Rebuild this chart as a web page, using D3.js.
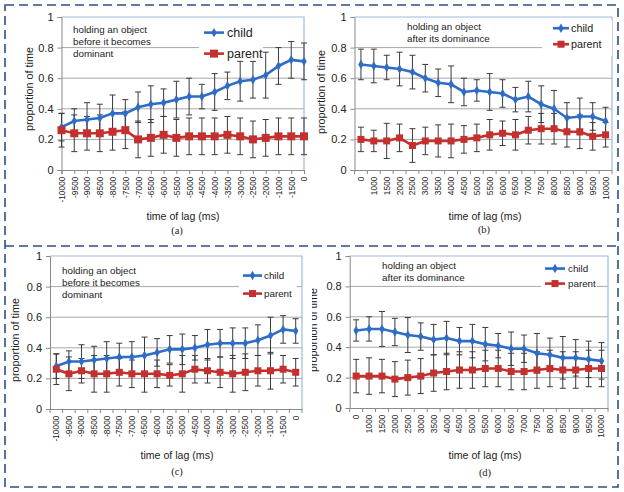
<!DOCTYPE html>
<html><head><meta charset="utf-8">
<script src="https://cdn.jsdelivr.net/npm/d3@7"></script>
<style>body{margin:0;background:#fff}svg{display:block}</style>
</head><body><svg id="c" width="624" height="492"></svg>
<script>
// ---------- data ----------
const catsBefore = ["-10000","-9500","-9000","-8500","-8000","-7500","-7000","-6500","-6000","-5500","-5000","-4500","-4000","-3500","-3000","-2500","-2000","-1000","-1500","0"];
const catsAfter  = ["0","1000","1500","2000","2500","3000","3500","4000","4500","5000","5500","6000","6500","7000","7500","8000","8500","9000","9500","10000"];

const childA     = [0.28,0.32,0.33,0.34,0.37,0.37,0.41,0.43,0.44,0.46,0.48,0.48,0.51,0.55,0.58,0.59,0.62,0.68,0.72,0.71];
const childAErr  = [0.09,0.08,0.11,0.09,0.12,0.09,0.10,0.12,0.09,0.12,0.12,0.08,0.12,0.09,0.13,0.12,0.15,0.12,0.12,0.12];
const parentA    = [0.26,0.24,0.24,0.24,0.25,0.26,0.20,0.21,0.23,0.21,0.22,0.22,0.22,0.23,0.22,0.20,0.21,0.22,0.22,0.22];
const parentAErr = [0.11,0.12,0.11,0.12,0.12,0.12,0.12,0.12,0.12,0.12,0.12,0.12,0.12,0.12,0.12,0.12,0.12,0.12,0.12,0.12];

const childB     = [0.69,0.68,0.67,0.66,0.64,0.60,0.57,0.56,0.51,0.52,0.51,0.50,0.46,0.48,0.43,0.40,0.34,0.35,0.35,0.32];
const childBErr  = [0.10,0.11,0.08,0.11,0.11,0.09,0.09,0.12,0.09,0.07,0.12,0.09,0.08,0.10,0.12,0.12,0.10,0.12,0.09,0.09];
const parentB    = [0.20,0.19,0.19,0.21,0.16,0.19,0.19,0.19,0.20,0.21,0.23,0.24,0.23,0.26,0.27,0.27,0.25,0.25,0.22,0.23];
const parentBErr = [0.08,0.07,0.115,0.09,0.11,0.09,0.105,0.11,0.09,0.09,0.10,0.08,0.10,0.09,0.10,0.10,0.10,0.11,0.09,0.08];

const childC     = [0.28,0.31,0.31,0.32,0.33,0.34,0.34,0.35,0.37,0.39,0.39,0.40,0.42,0.43,0.43,0.43,0.45,0.48,0.52,0.51];
const childCErr  = [0.08,0.07,0.11,0.09,0.11,0.09,0.10,0.12,0.09,0.09,0.10,0.08,0.10,0.09,0.10,0.10,0.10,0.12,0.09,0.08];
const parentC    = [0.26,0.23,0.25,0.23,0.23,0.24,0.23,0.23,0.23,0.22,0.23,0.26,0.25,0.24,0.23,0.24,0.25,0.25,0.26,0.24];
const parentCErr = [0.10,0.11,0.08,0.12,0.12,0.09,0.09,0.12,0.09,0.07,0.12,0.09,0.08,0.10,0.12,0.12,0.10,0.12,0.09,0.09];

const childD     = [0.51,0.52,0.52,0.50,0.48,0.47,0.45,0.46,0.44,0.44,0.42,0.41,0.39,0.39,0.36,0.35,0.33,0.33,0.32,0.31];
const childDErr  = [0.07,0.08,0.115,0.09,0.115,0.09,0.10,0.11,0.09,0.11,0.11,0.08,0.11,0.09,0.13,0.11,0.14,0.12,0.12,0.12];
const parentD    = [0.21,0.21,0.21,0.19,0.20,0.21,0.23,0.24,0.25,0.25,0.26,0.26,0.24,0.24,0.25,0.26,0.25,0.25,0.26,0.26];
const parentDErr = [0.11,0.12,0.11,0.115,0.115,0.115,0.12,0.12,0.12,0.12,0.12,0.12,0.12,0.12,0.12,0.12,0.12,0.12,0.12,0.12];

const yTicks = [0,0.2,0.4,0.6,0.8,1];
const seriesNames = ["child","parent"];
const noteBefore = ["holding an object","before it becomes","dominant"];
const noteAfter  = ["holding an object","after its dominance"];
const panelLabels = ["(a)","(b)","(c)","(d)"];
const yTitle = "proportion of time";
const xTitle = "time of lag (ms)";

// ---------- layout ----------
const CHILD = "#2f6cc6", PARENT = "#c4302d";
const panels = [
  {cats:catsBefore, child:childA, childErr:childAErr, parent:parentA, parentErr:parentAErr, note:noteBefore, label:panelLabels[0],
   x0:61.5, x1:304, yTop:17, yBot:170, mode:"point",
   noteX:73, noteY:32.5, noteDy:12, leg:{x:204, w:20, tx:227, y1:37, y2:58, fs:12.5, bg:[199,24,64,40], sq:8},
   yT:[29,89], xT:[183,220], lab:[177,234]},
  {cats:catsAfter, child:childB, childErr:childBErr, parent:parentB, parentErr:parentBErr, note:noteAfter, label:panelLabels[1],
   x0:354.5, x1:612, yTop:17, yBot:170, mode:"band",
   noteX:407, noteY:30, noteDy:11.5, leg:{x:553, w:16, tx:571, y1:32, y2:48, fs:10.8, bg:[542,20,70,36], sq:7},
   yT:[321,92], xT:[485,220], lab:[484,233]},
  {cats:catsBefore, child:childC, childErr:childCErr, parent:parentC, parentErr:parentCErr, note:noteBefore, label:panelLabels[2],
   x0:50, x1:302, yTop:256, yBot:409, mode:"band",
   noteX:62, noteY:274, noteDy:12, leg:{x:243, w:19, tx:264, y1:279, y2:297, fs:9.8, bg:[239,266,58,38], sq:7},
   yT:[15,340], xT:[177,459], lab:[177,475]},
  {cats:catsAfter, child:childD, childErr:childDErr, parent:parentD, parentErr:parentDErr, note:noteAfter, label:panelLabels[3],
   x0:349.7, x1:608, yTop:256, yBot:408, mode:"band",
   noteX:382, noteY:269, noteDy:11.5, leg:{x:545, w:20, tx:568, y1:272, y2:287, fs:9.8, bg:[541,262,56,32], sq:7},
   yT:[317,330,"clip"], xT:[485,459], lab:[485,476]}
];

const svg = d3.select("#c");
const defs = svg.append("defs");
defs.append("clipPath").attr("id","clipD").append("rect").attr("x",312).attr("y",240).attr("width",312).attr("height",252);

// dashed frame
const frame = svg.append("g").attr("fill","none").attr("stroke","#2c4f85").attr("stroke-width",1.6).attr("stroke-dasharray","9,5");
frame.append("rect").attr("x",5).attr("y",5).attr("width",613).attr("height",482);
frame.append("line").attr("x1",5).attr("x2",618).attr("y1",246).attr("y2",246);

const SANS = "'Liberation Sans', Arial, sans-serif";

panels.forEach(p => {
  const g = svg.append("g");
  let x;
  if (p.mode === "point") {
    x = d3.scalePoint().domain(p.cats).range([p.x0, p.x1]).padding(0);
  } else {
    const b = d3.scaleBand().domain(p.cats).range([p.x0, p.x1]);
    x = c => b(c) + b.bandwidth()/2;
    x.band = b;
  }
  const y = d3.scaleLinear().domain([0,1]).range([p.yBot, p.yTop]);

  // gridlines
  g.selectAll("line.grid").data(yTicks.filter(t => t > 0 && t < 1)).join("line")
    .attr("x1", p.x0).attr("x2", p.x1).attr("y1", d => y(d)).attr("y2", d => y(d))
    .attr("stroke", "#a8a8a8").attr("stroke-width", 1);
  // plot border top/right (light blue)
  g.append("path").attr("d", `M${p.x0},${y(1)}H${p.x1}V${p.yBot}`)
    .attr("fill","none").attr("stroke","#9dbbe0").attr("stroke-width",1.2);

  // y axis
  const yAx = d3.axisLeft(y).tickValues(yTicks).tickSize(4).tickPadding(4)
    .tickFormat(d => d3.format("~g")(d));
  const ya = g.append("g").attr("transform", `translate(${p.x0},0)`).call(yAx);
  ya.select(".domain").attr("stroke","#8a8a8a");
  ya.selectAll(".tick line").attr("stroke","#8a8a8a");
  ya.selectAll("text").attr("font-family", SANS).attr("font-size", 11).attr("fill","#222");

  // x axis
  let xa;
  if (p.mode === "point") {
    xa = g.append("g").attr("transform", `translate(0,${p.yBot})`)
      .call(d3.axisBottom(x).tickSize(4).tickPadding(3));
  } else {
    xa = g.append("g").attr("transform", `translate(0,${p.yBot})`)
      .call(d3.axisBottom(x.band).tickSize(0).tickPadding(3));
    const edges = p.cats.map(c => x.band(c)).concat([p.x1]);
    xa.selectAll("line.edge").data(edges).join("line").attr("class","edge")
      .attr("x1", d => d).attr("x2", d => d).attr("y1", 0).attr("y2", 4).attr("stroke","#8a8a8a");
  }
  xa.select(".domain").attr("stroke","#8a8a8a");
  xa.selectAll(".tick line").attr("stroke","#8a8a8a");
  xa.selectAll(".tick text")
    .attr("font-family", SANS).attr("font-size", 8.4).attr("fill","#222")
    .attr("text-anchor","end").attr("transform","rotate(-90)")
    .attr("x", -6.5).attr("y", 0).attr("dy","0.35em");

  // notes
  const nt = g.append("text").attr("font-family", SANS).attr("font-size", 9.8).attr("fill","#222");
  p.note.forEach((s,i) => nt.append("tspan").attr("x", p.noteX).attr("y", p.noteY + i*p.noteDy).text(s));

  // legend background
  const L = p.leg;
  g.append("rect").attr("x",L.bg[0]).attr("y",L.bg[1]).attr("width",L.bg[2]).attr("height",L.bg[3]).attr("fill","#fff");

  // error bars
  const errs = [[p.child, p.childErr], [p.parent, p.parentErr]];
  errs.forEach(([vals, err]) => {
    const eg = g.append("g").attr("stroke","#3a3a3a").attr("stroke-width",1);
    vals.forEach((v,i) => {
      const cx = x(p.cats[i]);
      eg.append("line").attr("x1",cx).attr("x2",cx).attr("y1",y(v+err[i])).attr("y2",y(v-err[i]));
      eg.append("line").attr("x1",cx-3).attr("x2",cx+3).attr("y1",y(v+err[i])).attr("y2",y(v+err[i]));
      eg.append("line").attr("x1",cx-3).attr("x2",cx+3).attr("y1",y(v-err[i])).attr("y2",y(v-err[i]));
    });
  });

  const line = d3.line().x((d,i) => x(p.cats[i])).y(d => y(d));
  g.append("path").datum(p.child).attr("d", line).attr("fill","none").attr("stroke",CHILD).attr("stroke-width",2.6);
  const diamond = d3.symbol().type(d3.symbolDiamond).size(26);
  g.selectAll("path.cm").data(p.child).join("path").attr("class","cm")
    .attr("d", diamond).attr("transform", (d,i) => `translate(${x(p.cats[i])},${y(d)})`).attr("fill",CHILD);
  g.append("path").datum(p.parent).attr("d", line).attr("fill","none").attr("stroke",PARENT).attr("stroke-width",2.6);
  g.selectAll("rect.pm").data(p.parent).join("rect").attr("class","pm")
    .attr("x", (d,i) => x(p.cats[i]) - L.sq/2).attr("y", d => y(d) - L.sq/2)
    .attr("width", L.sq).attr("height", L.sq).attr("fill",PARENT);

  // legend entries
  const legY = [L.y1, L.y2];
  seriesNames.forEach((s,i) => {
    const ly = legY[i] - L.fs*0.35;
    const col = i === 0 ? CHILD : PARENT;
    g.append("line").attr("x1",L.x).attr("x2",L.x+L.w).attr("y1",ly).attr("y2",ly).attr("stroke",col).attr("stroke-width",2.6);
    if (i === 0) {
      g.append("path").attr("d", diamond).attr("transform",`translate(${L.x+L.w/2},${ly})`).attr("fill",col);
    } else {
      g.append("rect").attr("x",L.x+L.w/2-L.sq/2).attr("y",ly-L.sq/2).attr("width",L.sq).attr("height",L.sq).attr("fill",col);
    }
    g.append("text").attr("x",L.tx).attr("y",legY[i]).attr("font-family",SANS).attr("font-size",L.fs).attr("fill","#222").text(s);
  });

  // axis titles
  const ytg = g.append("g");
  if (p.yT[2] === "clip") ytg.attr("clip-path","url(#clipD)");
  const yt = ytg.append("text").attr("font-family",SANS).attr("font-size",10.8).attr("fill","#222")
    .attr("text-anchor","middle").attr("transform",`translate(${p.yT[0]},${p.yT[1]}) rotate(-90)`).text(yTitle);
  if (p.yT[2] !== "clip") yt.attr("dy","0.35em");
  g.append("text").attr("font-family",SANS).attr("font-size",10.6).attr("fill","#222")
    .attr("text-anchor","middle").attr("x",p.xT[0]).attr("y",p.xT[1]).text(xTitle);
  g.append("text").attr("font-family","'Liberation Serif', 'Times New Roman', serif").attr("font-size",10.5).attr("fill","#222")
    .attr("text-anchor","middle").attr("x",p.lab[0]).attr("y",p.lab[1]).text(p.label);
});
</script></body></html>
